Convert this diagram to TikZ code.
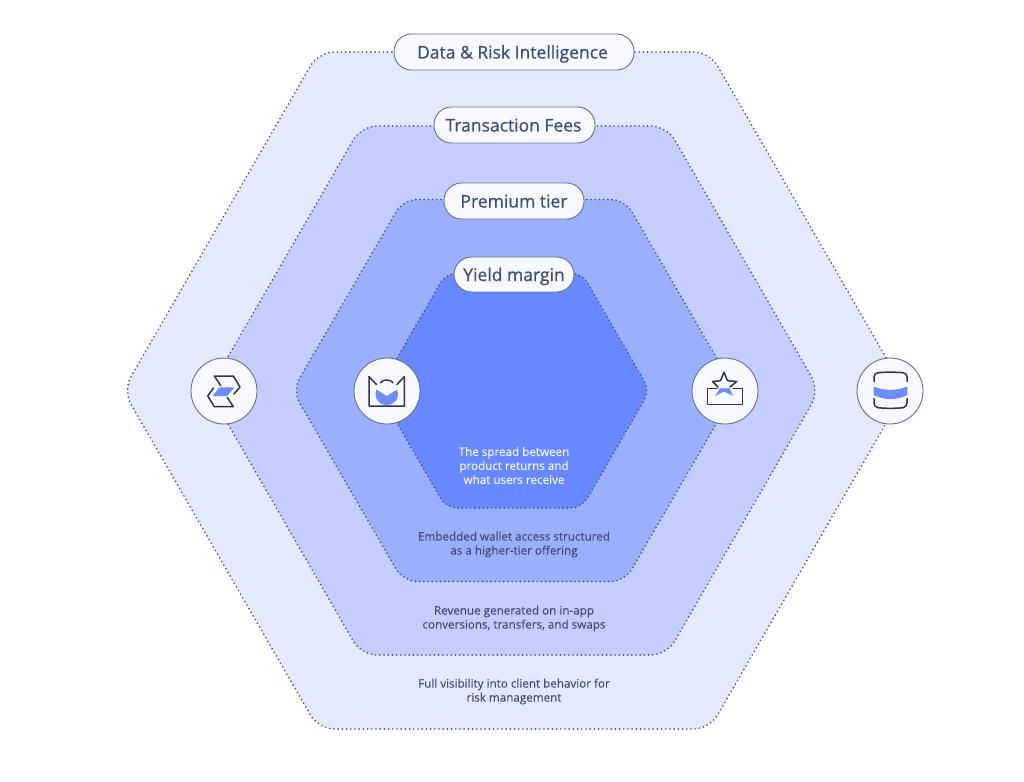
\documentclass[tikz,border=0pt]{standalone}
\usepackage{fontspec}
\setmainfont{Open Sans}
\newfontfamily\pillfont[FakeBold=0.6]{Open Sans}
\newfontfamily\capfont[FakeBold=0.12]{Open Sans}
\definecolor{hexa}{HTML}{E5E9FD}
\definecolor{hexb}{HTML}{C3CEFC}
\definecolor{hexc}{HTML}{9BB0FD}
\definecolor{hexd}{HTML}{6788FE}
\definecolor{dotc}{HTML}{4B5785}
\definecolor{ink}{HTML}{3F4C7E}
\definecolor{iconink}{HTML}{2D3350}
\definecolor{iconblue}{HTML}{6C8CF8}
\definecolor{rim}{HTML}{666F90}
\definecolor{paper}{HTML}{F8F9FE}
\tikzset{
  hexshape/.style={draw=dotc,line width=1.9pt,line cap=round,dash pattern=on 0pt off 4.2pt},
  pill/.style={draw=rim,line width=0.9pt,fill=paper,rounded corners=17.5pt,minimum height=36pt,inner sep=0pt,text=ink,text height=15pt,text depth=2pt,font=\pillfont\fontsize{17.5}{20}\selectfont},
  badge/.style={circle,draw=rim,line width=0.9pt,fill=paper,minimum size=66pt,inner sep=0pt},
  caption/.style={align=center,inner sep=0pt,text=ink,font=\capfont\fontsize{11.65}{14}\selectfont},
  iconline/.style={draw=iconink,line width=1.5pt,line cap=round,line join=round},
  iconfill/.style={fill=iconblue,draw=none}
}
\newcommand{\hexpath}[4]{% R, apothem, corner, fill
  \draw[hexshape,fill=#4,rounded corners=#3pt] (514,{390.5-#2})
    -- ({514+#1/2},{390.5-#2}) -- ({514+#1},390.5) -- ({514+#1/2},{390.5+#2})
    -- ({514-#1/2},{390.5+#2}) -- ({514-#1},390.5) -- ({514-#1/2},{390.5-#2}) -- cycle;
}
\begin{document}
\begin{tikzpicture}[x=1pt,y=-1pt]
\useasboundingbox (0,0) rectangle (1024,781);
\fill[white] (0,0) rectangle (1024,781);
\hexpath{391}{338.5}{16}{hexa}
\hexpath{305.4}{264.5}{16}{hexb}
\hexpath{221.5}{191}{14}{hexc}
\hexpath{135.7}{117.5}{11}{hexd}

\node[pill,minimum width=240pt] (pa) at (514,52) {\hspace{-3pt}Data \& Risk Intelligence};
\node[pill,minimum width=161pt] (pb) at (514.5,125) {\hspace{-2pt}Transaction Fees};
\node[pill,minimum width=140pt] (pc) at (514,201) {Premium tier};
\node[pill,minimum width=120pt,minimum height=35pt] (pd) at (514,274.5) {Yield margin};

\node[caption,text=white!92!hexd] (td) at (514,465.5) {The spread between\\product returns and\\what users receive};
\node[caption] (tc) at (514,544.5) {Embedded wallet access structured\\as a higher-tier offering};
\node[caption] (tb) at (514,618.5) {Revenue generated on in-app\\conversions, transfers, and swaps};
\node[caption] (ta) at (514,691.5) {Full visibility into client behavior for\\risk management};

\node[badge] (ia) at (224,391) {};
\node[badge] (ib) at (387,391) {};
\node[badge] (ic) at (725,391) {};
\node[badge] (ie) at (890,391) {};

% icon 1
\fill[iconfill] (212.7,396) -- (219.3,387.3) -- (234.3,387.3) -- (227.3,396) -- cycle;
\draw[iconline] (220.7,385.5) -- (214.3,376) -- (233.3,376) -- (240,387) -- (234,394);
\draw[iconline] (213.5,388) -- (207.7,396) -- (214.3,406.7) -- (233.3,406.7) -- (227.3,397.5);

% icon 2
\fill[iconfill] (376.3,389.5) .. controls (373.5,398.5) and (379,405) .. (386.7,405)
  .. controls (394.5,405) and (400,398.5) .. (397.1,389.5) -- (386.7,396) -- cycle;
\draw[iconline] (369,376.7) -- (369,406) -- (404.3,406) -- (404.3,376.7) -- (396.9,384.5);
\draw[iconline] (369,376.7) -- (376.5,384.5);
\draw[iconline] (380.5,382.7) .. controls (383,379) and (390.5,379) .. (393,382.7);

% icon 3
\draw[iconline] (717,388.3) -- (707.3,388.3) -- (707.3,404.3) -- (742.7,404.3) -- (742.7,388.3) -- (733,388.3);
\fill[iconfill] (715,396) -- (720,388.3) -- (729.5,388.3) -- (733,396) -- (724,391.5) -- cycle;
\draw[iconline] (718,387) -- (712.5,381.5) -- (720.5,380.7) -- (724,372.3) -- (727.5,380.7) -- (736.7,381.5) -- (730,387);

% icon 4
\fill[iconfill] (873.5,386.5) .. controls (885,391) and (896,391) .. (907.3,386.5)
  -- (907.3,395) .. controls (896,400.5) and (885,400.5) .. (873.5,395) -- cycle;
\draw[iconline] (874,381.5) -- (874,377) .. controls (874,374.5) and (875.5,373) .. (878,372.7)
  .. controls (885,372) and (896,372) .. (903,372.7) .. controls (905.5,373) and (907,374.5) .. (907,377) -- (907,381.5);
\draw[iconline] (874,398.5) -- (874,403) .. controls (874,405.5) and (875.5,407) .. (878,407.7)
  .. controls (885,408.5) and (896,408.5) .. (903,407.7) .. controls (905.5,407) and (907,405.5) .. (907,403) -- (907,398.5);
\end{tikzpicture}
\end{document}
